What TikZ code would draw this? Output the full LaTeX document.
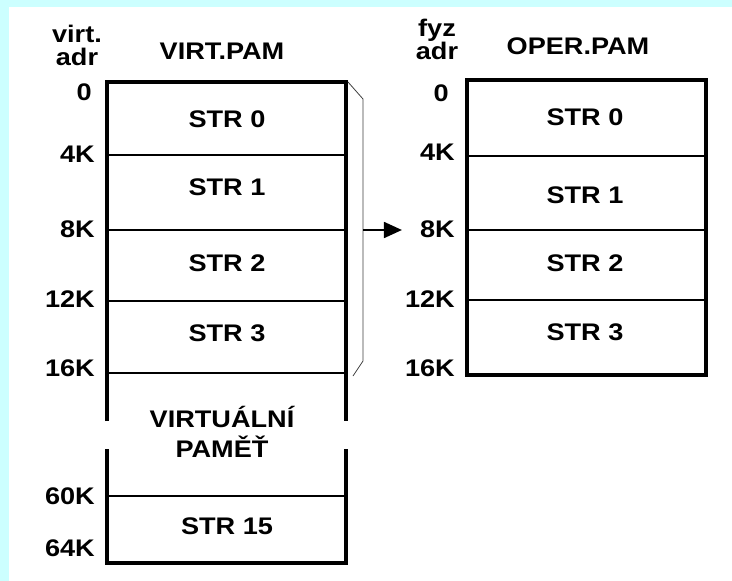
\documentclass[tikz,border=0pt]{standalone}
\usepackage{fontspec}
\setmainfont{Liberation Sans}[FakeStretch=1.13]
\usetikzlibrary{arrows.meta}
\definecolor{bgcyan}{HTML}{CCFFFF}

\begin{document}
\begin{tikzpicture}[x=1pt,y=-1pt,>=Triangle,
  font=\fontsize{24}{23}\selectfont\bfseries,
  frame/.style={line width=4.5pt},
  divider/.style={line width=1.6pt},
  adr/.style={anchor=east,inner sep=0pt},
  page/.style={inner sep=0pt}]
\fill[bgcyan] (0,0) rectangle (732,581);
\fill[white] (9,7) rectangle (732,581);
\useasboundingbox (0,0) rectangle (732,581);

% virtual memory
\node[align=center,inner sep=0pt] (vhead) at (77,45) {virt.\\adr};
\node[page] (vtitle) at (222,51) {VIRT.PAM};
\draw[frame] (107,421) -- (107,82) -- (346,82) -- (346,421);
\draw[frame] (107,449) -- (107,563) -- (346,563) -- (346,449);
\foreach \y in {155,230,301,373,496}
  \draw[divider] (107,\y) -- (346,\y);
\node[adr] (v0) at (92,92) {0};
\node[adr] (v4) at (95,154) {4K};
\node[adr] (v8) at (95,229) {8K};
\node[adr] (v12) at (95,299) {12K};
\node[adr] (v16) at (95,368) {16K};
\node[adr] (v60) at (95,496) {60K};
\node[adr] (v64) at (95,548) {64K};
\node[page] (vs0) at (227,119) {STR 0};
\node[page] (vs1) at (227,187) {STR 1};
\node[page] (vs2) at (227,263) {STR 2};
\node[page] (vs3) at (227,333) {STR 3};
\node[page,align=center] (vrest) at (222,432) {VIRTUÁLNÍ\\[7pt]PAMĚŤ};
\node[page] (vs15) at (227,526) {STR 15};

% bracket over pages 0-3
\draw[black!75,line width=0.8pt] (348,82) -- (363,99) -- (363,361) -- (353,376);
\coordinate (brk) at (363,230);

% physical memory
\node[align=center,inner sep=0pt] (fhead) at (437,39) {fyz\\adr};
\node[page] (ftitle) at (578,46) {OPER.PAM};
\draw[frame] (467,80) rectangle (706,375);
\foreach \y in {156,230,300}
  \draw[divider] (467,\y) -- (706,\y);
\node[adr] (f0) at (449,93) {0};
\node[adr] (f4) at (455,152) {4K};
\node[adr] (f8) at (455,229) {8K};
\node[adr] (f12) at (455,299) {12K};
\node[adr] (f16) at (455,368) {16K};
\node[page] (fs0) at (585,117) {STR 0};
\node[page] (fs1) at (585,195) {STR 1};
\node[page] (fs2) at (585,263) {STR 2};
\node[page] (fs3) at (585,332) {STR 3};

\draw[line width=1.8pt,-{Triangle[length=18pt,width=16pt]},shorten >=18pt] (brk) -- (f8.west |- brk);
\end{tikzpicture}
\end{document}
